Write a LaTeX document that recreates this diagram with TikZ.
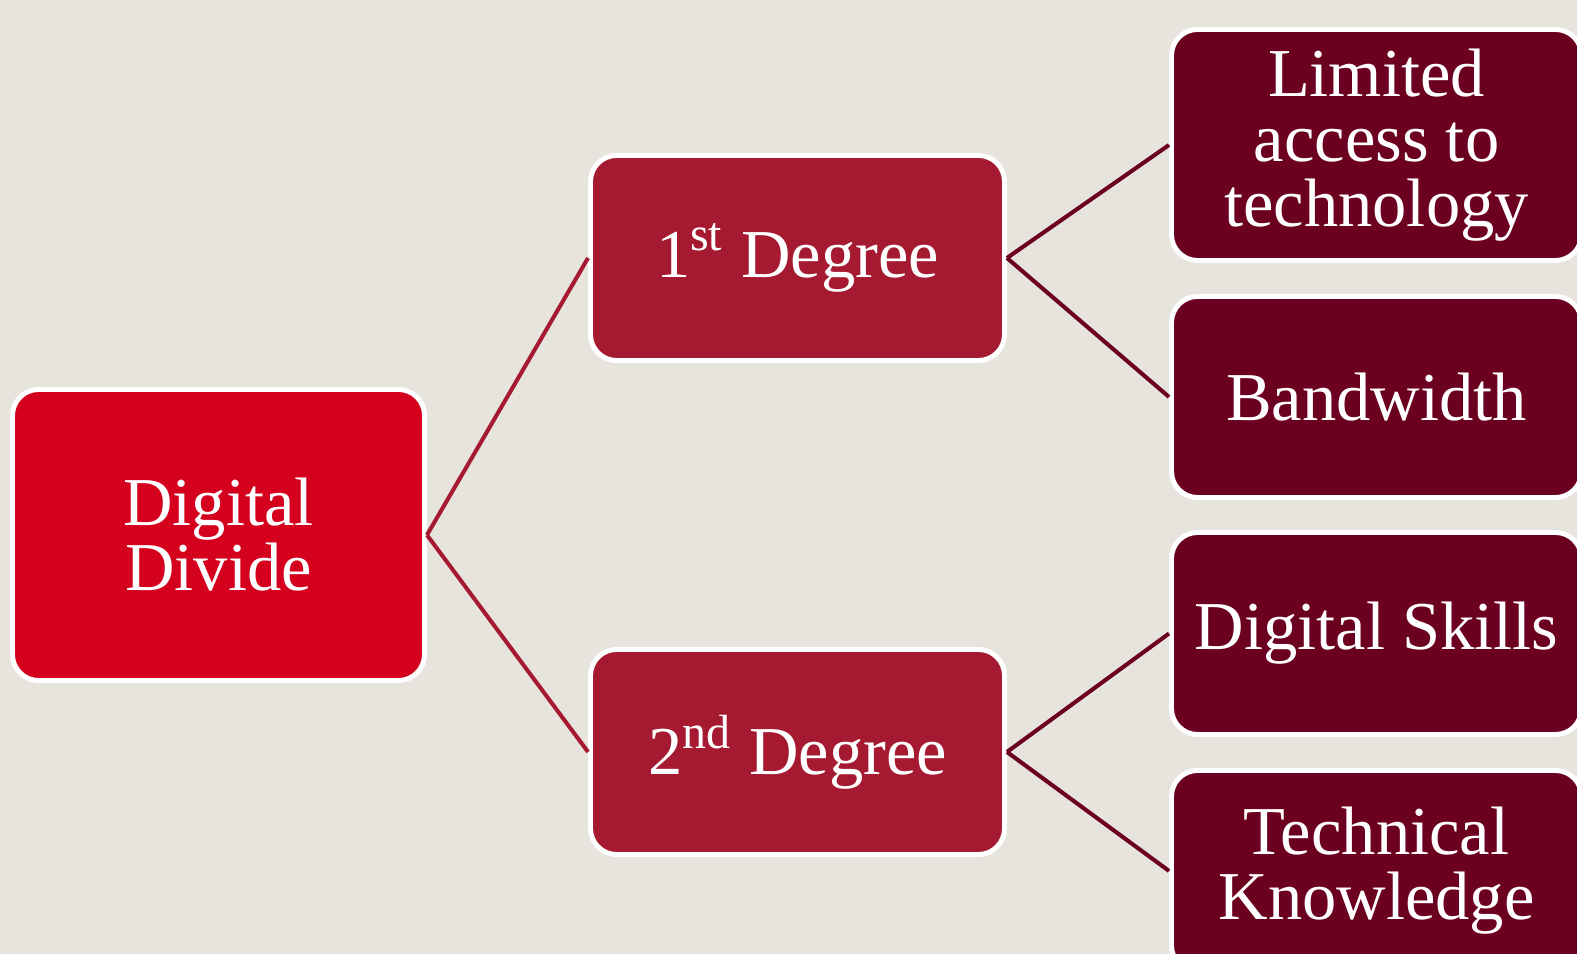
\documentclass[tikz,border=0pt]{standalone}
\usepackage{fontspec}
\setmainfont{Liberation Serif}
\definecolor{bgbeige}{HTML}{E7E4DE}
\definecolor{rootred}{HTML}{D5001D}
\definecolor{degreered}{HTML}{A51A30}
\definecolor{leafred}{HTML}{6B0020}
\tikzset{
    box/.style={draw=white, line width=1.4pt, rounded corners=0.26cm, text=white,
        align=center, inner sep=0pt, font=\fontsize{19.5}{18.5}\selectfont},
    rootbox/.style={box, fill=rootred, minimum width=4.12cm, minimum height=2.91cm},
    degreebox/.style={box, fill=degreered, minimum width=4.14cm, minimum height=2.05cm},
    leafbox/.style={box, fill=leafred, minimum width=4.1cm},
    link/.style={line width=1.15pt}
}

\begin{document}
\begin{tikzpicture}
        %background
            \fill[bgbeige] (0,0) rectangle (15.77,9.54);
            \useasboundingbox (0,0) rectangle (15.77,9.54);
            \clip (0,0) rectangle (15.77,9.54);
        %boxes
            \node[rootbox] (divide) at (2.185,4.19) {Digital\\Divide};
            \node[degreebox] (first) at (7.975,6.96) {1\textsuperscript{st} Degree};
            \node[degreebox] (second) at (7.975,2.02) {2\textsuperscript{nd} Degree};
            \node[leafbox, minimum height=2.31cm] (access) at (13.765,8.09) {Limited\\access to\\technology};
                \node[leafbox, minimum height=2.01cm] (bandwidth) at (13.765,5.57) {Bandwidth};
            \node[leafbox, minimum height=2.02cm] (skills) at (13.765,3.205) {Digital Skills};
                \node[leafbox, minimum height=2.01cm] (knowledge) at (13.765,0.83) {Technical\\Knowledge};
        %lines
            \draw[link, degreered] (divide.east) -- (first.west);
            \draw[link, degreered] (divide.east) -- (second.west);
            \draw[link, leafred] (first.east) -- (access.west);
            \draw[link, leafred] (first.east) -- (bandwidth.west);
            \draw[link, leafred] (second.east) -- (skills.west);
            \draw[link, leafred] (second.east) -- (knowledge.west);
    \end{tikzpicture}
\end{document}
